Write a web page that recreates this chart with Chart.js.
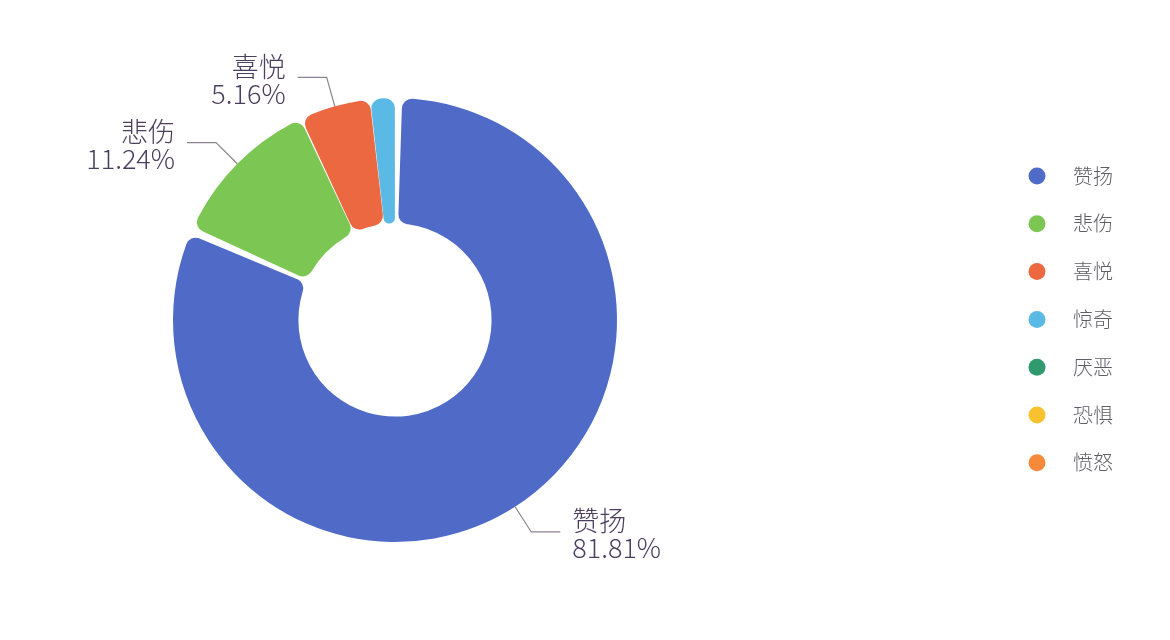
<!DOCTYPE html>
<html>
<head>
<meta charset="utf-8">
<script src="https://cdn.jsdelivr.net/npm/chart.js@4/dist/chart.umd.min.js"></script>
<style>
  html, body { margin: 0; padding: 0; background: #fff; }
  #wrap { width: 1170px; height: 640px; }
</style>
</head>
<body>
<div id="wrap"><canvas id="emotionChart"></canvas></div>
<script>
// chart data
const categories = ['赞扬', '悲伤', '喜悦', '惊奇', '厌恶', '恐惧', '愤怒'];
const shares = [81.81, 11.24, 5.16, 1.79, 0, 0, 0];
const sliceColors = ['#4f6bc7', '#7cc653', '#ec6841', '#5bb9e6', '#2f9a6d', '#f8c12e', '#f7893a'];

const FONT = '"Noto Sans CJK SC", "Noto Sans", sans-serif';

// outside labels with leader lines, placed from each arc's own geometry
const sliceLabels = {
    id: 'sliceLabels',
    afterDatasetsDraw(chart) {
        const ctx = chart.ctx;
        const meta = chart.getDatasetMeta(0);
        meta.data.forEach((arc, i) => {
            const v = shares[i];
            if (v < 3) return; // small slices get no label
            const p = arc.getProps(['x', 'y', 'startAngle', 'endAngle', 'outerRadius'], true);
            const mid = (p.startAngle + p.endAngle) / 2;
            const cos = Math.cos(mid), sin = Math.sin(mid);
            const r0 = p.outerRadius + 2;
            const x0 = p.x + cos * r0, y0 = p.y + sin * r0;
            const x1 = p.x + cos * (r0 + 30), y1 = p.y + sin * (r0 + 30);
            const dir = cos >= 0 ? 1 : -1;
            const x2 = x1 + dir * 29;

            ctx.save();
            ctx.strokeStyle = '#8d8290';
            ctx.lineWidth = 1.2;
            ctx.beginPath();
            ctx.moveTo(x0, y0);
            ctx.lineTo(x1, y1);
            ctx.lineTo(x2, y1);
            ctx.stroke();

            ctx.fillStyle = '#4b3e5e';
            ctx.font = '300 27px ' + FONT;
            ctx.textAlign = dir > 0 ? 'left' : 'right';
            ctx.textBaseline = 'middle';
            const tx = x2 + dir * 12;
            ctx.fillText(categories[i], tx, y1 - 11);
            ctx.fillText(v.toFixed(2) + '%', tx, y1 + 16);
            ctx.restore();
        });
    }
};

// legend on the right: dot + name
const sideLegend = {
    id: 'sideLegend',
    afterDraw(chart) {
        const ctx = chart.ctx;
        const colors = chart.data.datasets[0].backgroundColor;
        ctx.save();
        chart.data.labels.forEach((name, i) => {
            const y = 176 + i * 47.8;
            ctx.fillStyle = colors[i];
            ctx.beginPath();
            ctx.arc(1037, y, 8.5, 0, Math.PI * 2);
            ctx.fill();
            ctx.fillStyle = '#5e5e66';
            ctx.font = '300 20px ' + FONT;
            ctx.textAlign = 'left';
            ctx.textBaseline = 'middle';
            ctx.fillText(name, 1073, y);
        });
        ctx.restore();
    }
};

const ctx = document.getElementById('emotionChart').getContext('2d');

let emotionChart = new Chart(ctx, {
    type: 'doughnut',
    data: {
        labels: categories,
        datasets: [{
            data: shares,
            backgroundColor: sliceColors,
            borderWidth: 0,
            borderRadius: 10,
            spacing: 4
        }]
    },
    options: {
        responsive: true,
        maintainAspectRatio: false,
        animation: false,
        cutout: '43%',
        layout: { padding: { left: 173, right: 553, top: 98, bottom: 98 } },
        plugins: {
            legend: { display: false },
            tooltip: { enabled: false }
        }
    },
    plugins: [sliceLabels, sideLegend]
});
</script>
</body>
</html>
